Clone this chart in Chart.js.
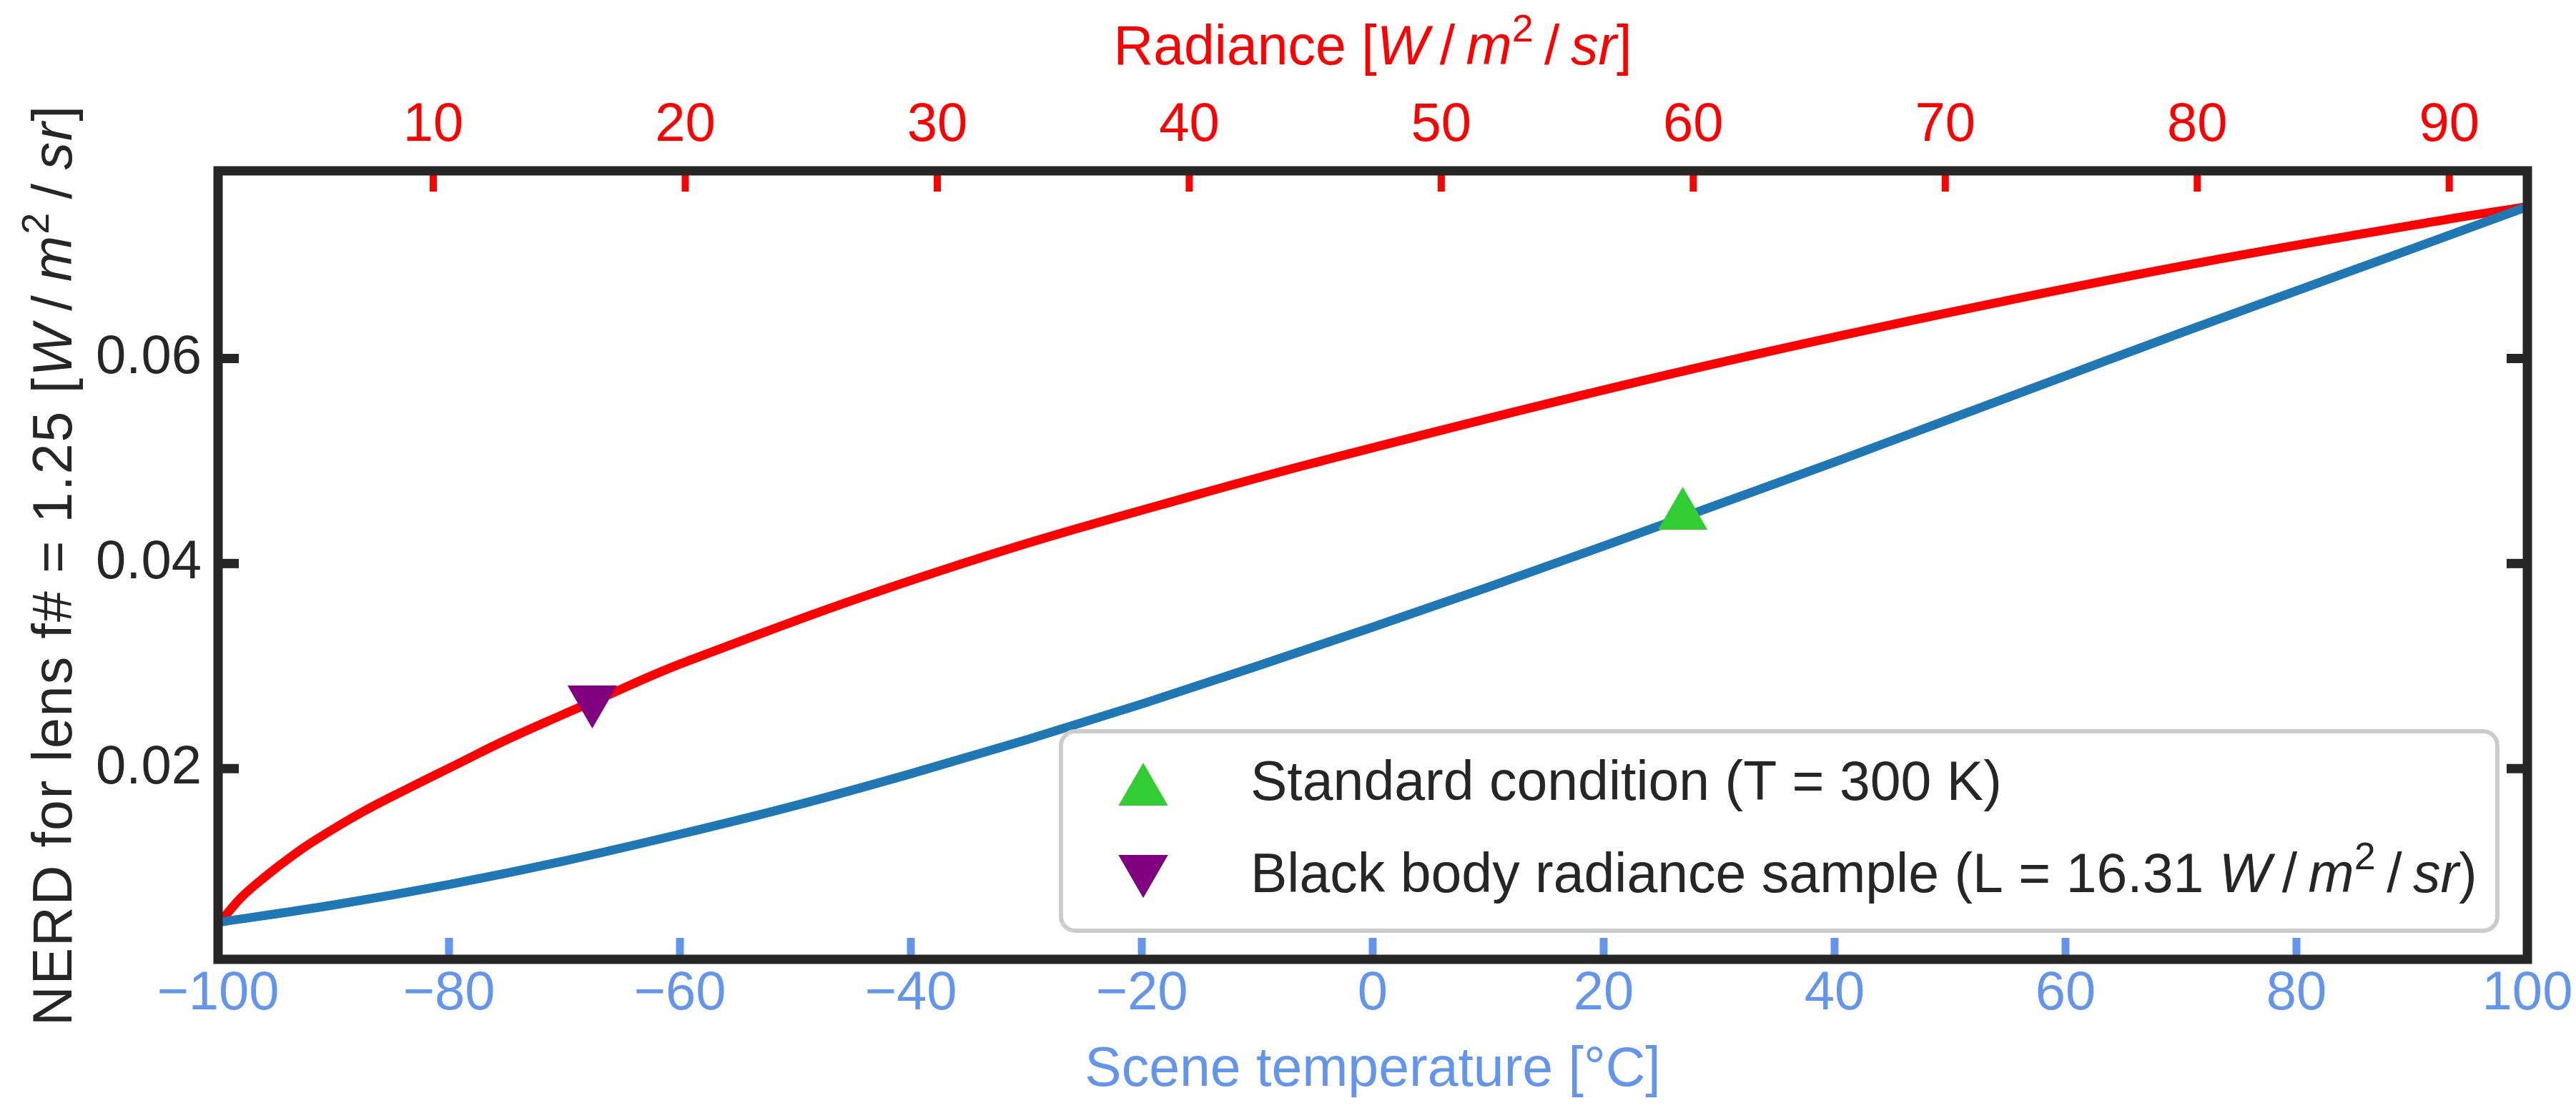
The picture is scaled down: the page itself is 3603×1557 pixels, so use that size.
<!DOCTYPE html>
<html>
<head>
<meta charset="utf-8">
<script src="https://cdn.jsdelivr.net/npm/chart.js@4.4.1/dist/chart.umd.min.js"></script>
<style>
  html, body { margin: 0; padding: 0; background: #fff; overflow: hidden; }
  canvas { display: block; }
</style>
</head>
<body>
<canvas id="nerdChart" width="3603" height="1557" style="width:3603px;height:1557px"></canvas>
<script>
// NERD against scene temperature (bottom axis, deg C)
const tempC = [-100, -90, -80, -70, -60, -50, -40, -30, -20, -10, 0, 10, 20, 30, 40, 50, 60, 70, 80, 90, 100];
const nerdByTemp = [0.0050, 0.0067, 0.0087, 0.0110, 0.0136, 0.0164, 0.0195, 0.0228, 0.0263, 0.0300, 0.0338,
  0.0377, 0.0417, 0.0458, 0.0499, 0.0541, 0.0583, 0.0625, 0.0666, 0.0707, 0.0748];

// NERD against radiance (top axis, W/m2/sr)
const radiance = [1.46, 1.66, 2.41, 3.35, 4.3, 5.24, 7.14, 9.03, 10.92, 12.81, 15.08, 16.31, 20, 30, 40, 50, 60, 70, 80, 90, 93.1];
const nerdByRadiance = [0.0049, 0.0054, 0.0075, 0.0095, 0.0113, 0.0129, 0.0157, 0.0181, 0.0204, 0.0227, 0.0252, 0.0265,
  0.0304, 0.0392, 0.0465, 0.0530, 0.0590, 0.0644, 0.0693, 0.0736, 0.0748];

// the two marked points
const standardT = [26.85];
const standardNerd = [0.0447];
const sampleL = [16.31];
const sampleNerd = [0.0267];

// ticks
const tempTicks = [-100, -80, -60, -40, -20, 0, 20, 40, 60, 80, 100];
const radianceTicks = [10, 20, 30, 40, 50, 60, 70, 80, 90];
const nerdTicks = [0.02, 0.04, 0.06];

const legendLabels = ["Standard condition (T = 300 K)", "Black body radiance sample (L = 16.31 W/m²/sr)"];

const FAMILY = '"Liberation Sans", Arial, sans-serif';
const DARK = "#262626";
const TEMP_COLOR = "#6495ed";
const RAD_COLOR = "#ff0000";

function fontOf(size, style) {
  return (style === "i" ? "italic " : "") + size + "px " + FAMILY;
}

// text with italic / superscript pieces, like the mathtext units
function richWidth(ctx, segs, size) {
  let w = 0;
  segs.forEach(s => {
    const sz = s[1] === "sup" ? size * 0.7 : size;
    ctx.font = fontOf(sz, s[1]);
    w += ctx.measureText(s[0]).width;
  });
  return w;
}

function drawRich(ctx, segs, cx, baseY, size, color) {
  let x = cx - richWidth(ctx, segs, size) / 2;
  ctx.fillStyle = color;
  ctx.textAlign = "left";
  ctx.textBaseline = "alphabetic";
  segs.forEach(s => {
    const sup = s[1] === "sup";
    const sz = sup ? size * 0.7 : size;
    ctx.font = fontOf(sz, s[1]);
    ctx.fillText(s[0], x, sup ? baseY - size * 0.42 : baseY);
    x += ctx.measureText(s[0]).width;
  });
}

function drawRichLeft(ctx, segs, x, baseY, size, color) {
  drawRich(ctx, segs, x + richWidth(ctx, segs, size) / 2, baseY, size, color);
}

const unitSegs = [["W", "i"], ["\u2009/\u2009", ""], ["m", "i"], ["2", "sup"], ["\u2009/\u2009", ""], ["sr", "i"]];

// inward ticks, frame, legend and axis titles
const decorPlugin = {
  id: "decor",
  afterDatasetsDraw(chart) {
    const ctx = chart.ctx;
    const ca = chart.chartArea;
    const sx = chart.scales.x, sx2 = chart.scales.x2, sy = chart.scales.y;
    const line = (x1, y1, x2, y2) => { ctx.beginPath(); ctx.moveTo(x1, y1); ctx.lineTo(x2, y2); ctx.stroke(); };
    ctx.save();
    ctx.lineCap = "butt";

    ctx.strokeStyle = DARK;
    ctx.lineWidth = 13;
    nerdTicks.forEach(v => {
      const p = sy.getPixelForValue(v);
      line(ca.left, p, ca.left + 29, p);
      line(ca.right - 29, p, ca.right, p);
    });

    ctx.strokeStyle = TEMP_COLOR;
    ctx.lineWidth = 11;
    tempTicks.forEach(v => {
      const p = sx.getPixelForValue(v);
      line(p, ca.bottom, p, ca.bottom - 30);
    });

    ctx.strokeStyle = RAD_COLOR;
    ctx.lineWidth = 10;
    radianceTicks.forEach(v => {
      const p = sx2.getPixelForValue(v);
      line(p, ca.top, p, ca.top + 29);
    });

    // frame
    ctx.strokeStyle = DARK;
    ctx.lineWidth = 13;
    ctx.lineJoin = "miter";
    ctx.strokeRect(ca.left, ca.top, ca.right - ca.left, ca.bottom - ca.top);

    // legend box, bottom right inside the axes
    const lw = 2009, lh = 279;
    const lx = ca.right - 42 - lw, ly = ca.bottom - 40 - lh;
    ctx.beginPath();
    ctx.roundRect(lx, ly, lw, lh, 20);
    ctx.fillStyle = "#ffffff";
    ctx.fill();
    ctx.strokeStyle = "#cccccc";
    ctx.lineWidth = 6;
    ctx.stroke();

    const mx = lx + 115;
    Chart.helpers.drawPoint(ctx, { pointStyle: "triangle", rotation: 0, radius: 40, borderWidth: 0 }, mx, ly + 84);
    ctx.fillStyle = "#32cd32";
    ctx.fill();
    Chart.helpers.drawPoint(ctx, { pointStyle: "triangle", rotation: 180, radius: 40, borderWidth: 0 }, mx, ly + 193);
    ctx.fillStyle = "#800080";
    ctx.fill();

    const tx = lx + 265;
    drawRichLeft(ctx, [[legendLabels[0], ""]], tx, ly + 96, 77, DARK);
    drawRichLeft(ctx, [["Black body radiance sample (L = 16.31 ", ""], ...unitSegs, [")", ""]], tx, ly + 225, 77, DARK);
    ctx.restore();
  },
  afterDraw(chart) {
    const ctx = chart.ctx;
    const ca = chart.chartArea;
    const cx = (ca.left + ca.right) / 2;
    const cy = (ca.top + ca.bottom) / 2;
    ctx.save();
    drawRich(ctx, [["Radiance [", ""], ...unitSegs, ["]", ""]], cx, ca.top - 149, 77, RAD_COLOR);
    drawRich(ctx, [["Scene temperature [°C]", ""]], cx, ca.bottom + 177, 77, TEMP_COLOR);
    ctx.translate(ca.left - 205, cy);
    ctx.rotate(-Math.PI / 2);
    ctx.letterSpacing = "2px";
    drawRich(ctx, [["NERD for lens f# = 1.25 [", ""], ...unitSegs, ["]", ""]], 0, 0, 77, DARK);
    ctx.restore();
  }
};

const tickFont = { family: FAMILY, size: 76 };

new Chart(document.getElementById("nerdChart").getContext("2d"), {
  type: "line",
  data: {
    datasets: [
      {
        type: "scatter",
        label: legendLabels[0],
        data: standardT.map((t, i) => ({ x: t, y: standardNerd[i] })),
        xAxisID: "x", yAxisID: "y",
        pointStyle: "triangle", pointRadius: 40, pointHoverRadius: 40,
        pointBackgroundColor: "#32cd32", pointBorderWidth: 0,
        order: 0
      },
      {
        type: "scatter",
        label: legendLabels[1],
        data: sampleL.map((l, i) => ({ x: l, y: sampleNerd[i] })),
        xAxisID: "x2", yAxisID: "y",
        pointStyle: "triangle", pointRotation: 180, pointRadius: 40, pointHoverRadius: 40,
        pointBackgroundColor: "#800080", pointBorderWidth: 0,
        order: 0
      },
      {
        label: "NERD vs temperature",
        data: tempC.map((t, i) => ({ x: t, y: nerdByTemp[i] })),
        xAxisID: "x", yAxisID: "y",
        borderColor: "#1f77b4", borderWidth: 12.5,
        pointRadius: 0, cubicInterpolationMode: "monotone", fill: false,
        order: 1
      },
      {
        label: "NERD vs radiance",
        data: radiance.map((l, i) => ({ x: l, y: nerdByRadiance[i] })),
        xAxisID: "x2", yAxisID: "y",
        borderColor: RAD_COLOR, borderWidth: 12.5,
        pointRadius: 0, tension: 0.4, fill: false,
        order: 2
      }
    ]
  },
  options: {
    responsive: false,
    devicePixelRatio: 1,
    animation: false,
    events: [],
    layout: { padding: { left: 0, right: 68, top: 0, bottom: 0 } },
    plugins: { legend: { display: false }, tooltip: { enabled: false } },
    scales: {
      x: {
        type: "linear", position: "bottom", min: -100, max: 100,
        grid: { display: false, drawTicks: false }, border: { display: false },
        afterBuildTicks: s => { s.ticks = tempTicks.map(v => ({ value: v })); },
        afterFit: s => { s.height = 215; },
        ticks: {
          color: TEMP_COLOR, font: tickFont, padding: 3, maxRotation: 0, autoSkip: false,
          callback: v => (v < 0 ? "\u2212" + Math.abs(v) : String(v))
        }
      },
      x2: {
        type: "linear", position: "top", min: 1.46, max: 93.1,
        grid: { display: false, drawTicks: false }, border: { display: false },
        afterBuildTicks: s => { s.ticks = radianceTicks.map(v => ({ value: v })); },
        afterFit: s => { s.height = 239; },
        ticks: { color: RAD_COLOR, font: tickFont, padding: 17, maxRotation: 0, autoSkip: false, callback: v => String(v) }
      },
      y: {
        type: "linear", position: "left", min: 0.0014, max: 0.0783,
        grid: { display: false, drawTicks: false }, border: { display: false },
        afterBuildTicks: s => { s.ticks = nerdTicks.map(v => ({ value: v })); },
        afterFit: s => { s.width = 305; },
        ticks: { color: DARK, font: tickFont, padding: 23, callback: v => v.toFixed(2) }
      }
    }
  },
  plugins: [decorPlugin]
});
</script>
</body>
</html>
